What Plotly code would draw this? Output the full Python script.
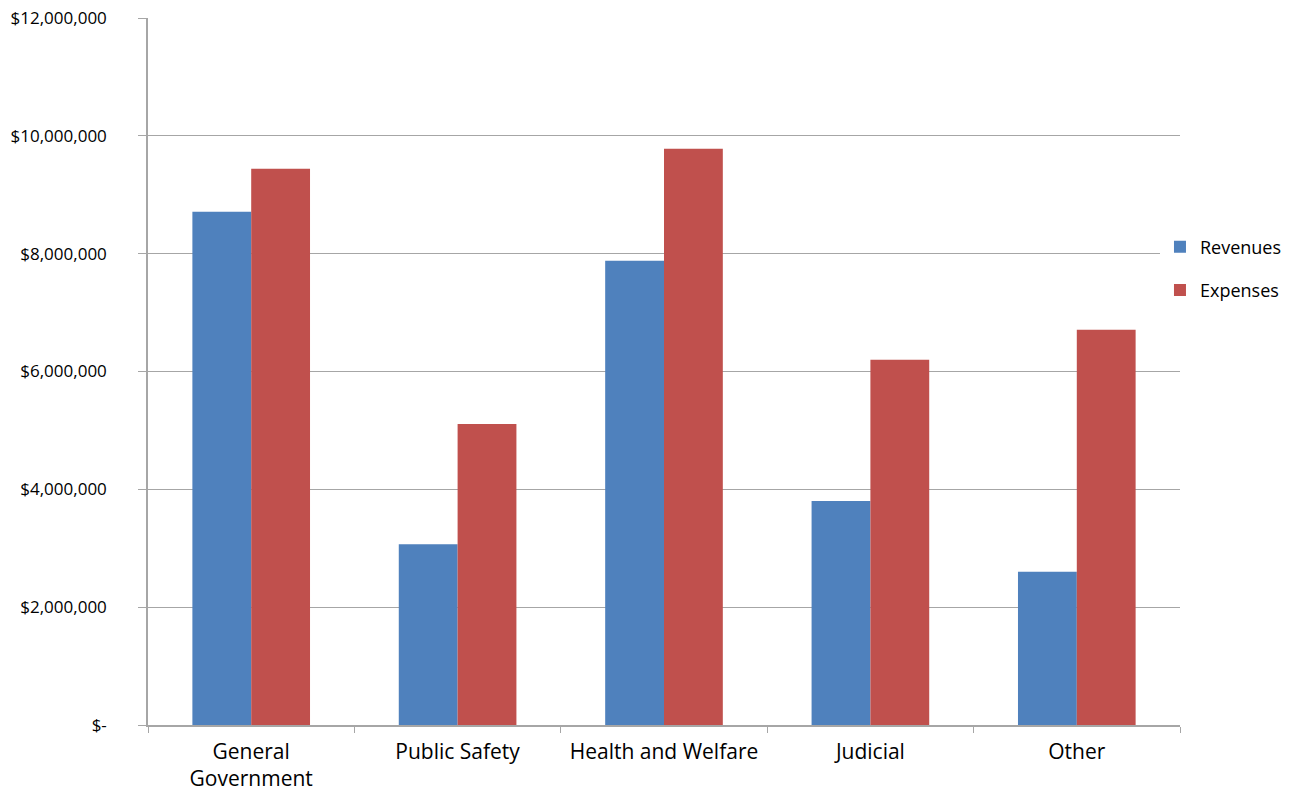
import plotly.graph_objects as go

categories = ["General<br>Government", "Public Safety", "Health and Welfare", "Judicial", "Other"]
revenues = [8710000, 3070000, 7880000, 3800000, 2600000]
expenses = [9440000, 5110000, 9780000, 6200000, 6710000]
y_tickvals = [0, 2000000, 4000000, 6000000, 8000000, 10000000, 12000000]
y_ticktext = ["$-", "$2,000,000", "$4,000,000", "$6,000,000", "$8,000,000", "$10,000,000", "$12,000,000"]

font_family = "Open Sans"
fig = go.Figure()
fig.add_trace(go.Bar(name="Revenues", x=categories, y=revenues, marker_color="#4F81BD",
                     marker_line_width=0, legendgroup="r"))
fig.add_trace(go.Bar(name="Expenses", x=categories, y=expenses, marker_color="#C0504D",
                     marker_line_width=0, legendgroup="e"))

fig.update_layout(
    width=1295, height=792,
    barmode="group", bargap=0.43, bargroupgap=0,
    paper_bgcolor="white", plot_bgcolor="white",
    margin=dict(l=148, r=115, t=18, b=67, autoexpand=False),
    font=dict(family=font_family, size=18, color="black"),
    legend=dict(x=0.9806, xanchor="left", y=0.661, yanchor="middle", yref="container",
                font=dict(size=18), tracegroupgap=17, traceorder="grouped"),
    showlegend=True,
)
fig.update_xaxes(showline=True, linecolor="#A6A6A6", linewidth=1.5,
                 ticks="outside", tickson="boundaries", ticklen=6, tickcolor="#A6A6A6",
                 tickangle=0, showgrid=False, tickfont=dict(size=21),
                 ticklabelstandoff=7)
fig.update_yaxes(range=[0, 12000000], tickvals=y_tickvals, ticktext=y_ticktext,
                 showline=True, linecolor="#A6A6A6", linewidth=1.5,
                 ticks="outside", ticklen=8, tickcolor="#A6A6A6",
                 showgrid=True, gridcolor="#A6A6A6", gridwidth=1,
                 ticklabelstandoff=28, zeroline=False, tickfont=dict(size=17),
                 ticklabeloverflow="allow")

fig.write_html("out.html", config={"displayModeBar": False},
               post_script="document.body.style.margin='0';document.body.style.overflow='hidden';")
